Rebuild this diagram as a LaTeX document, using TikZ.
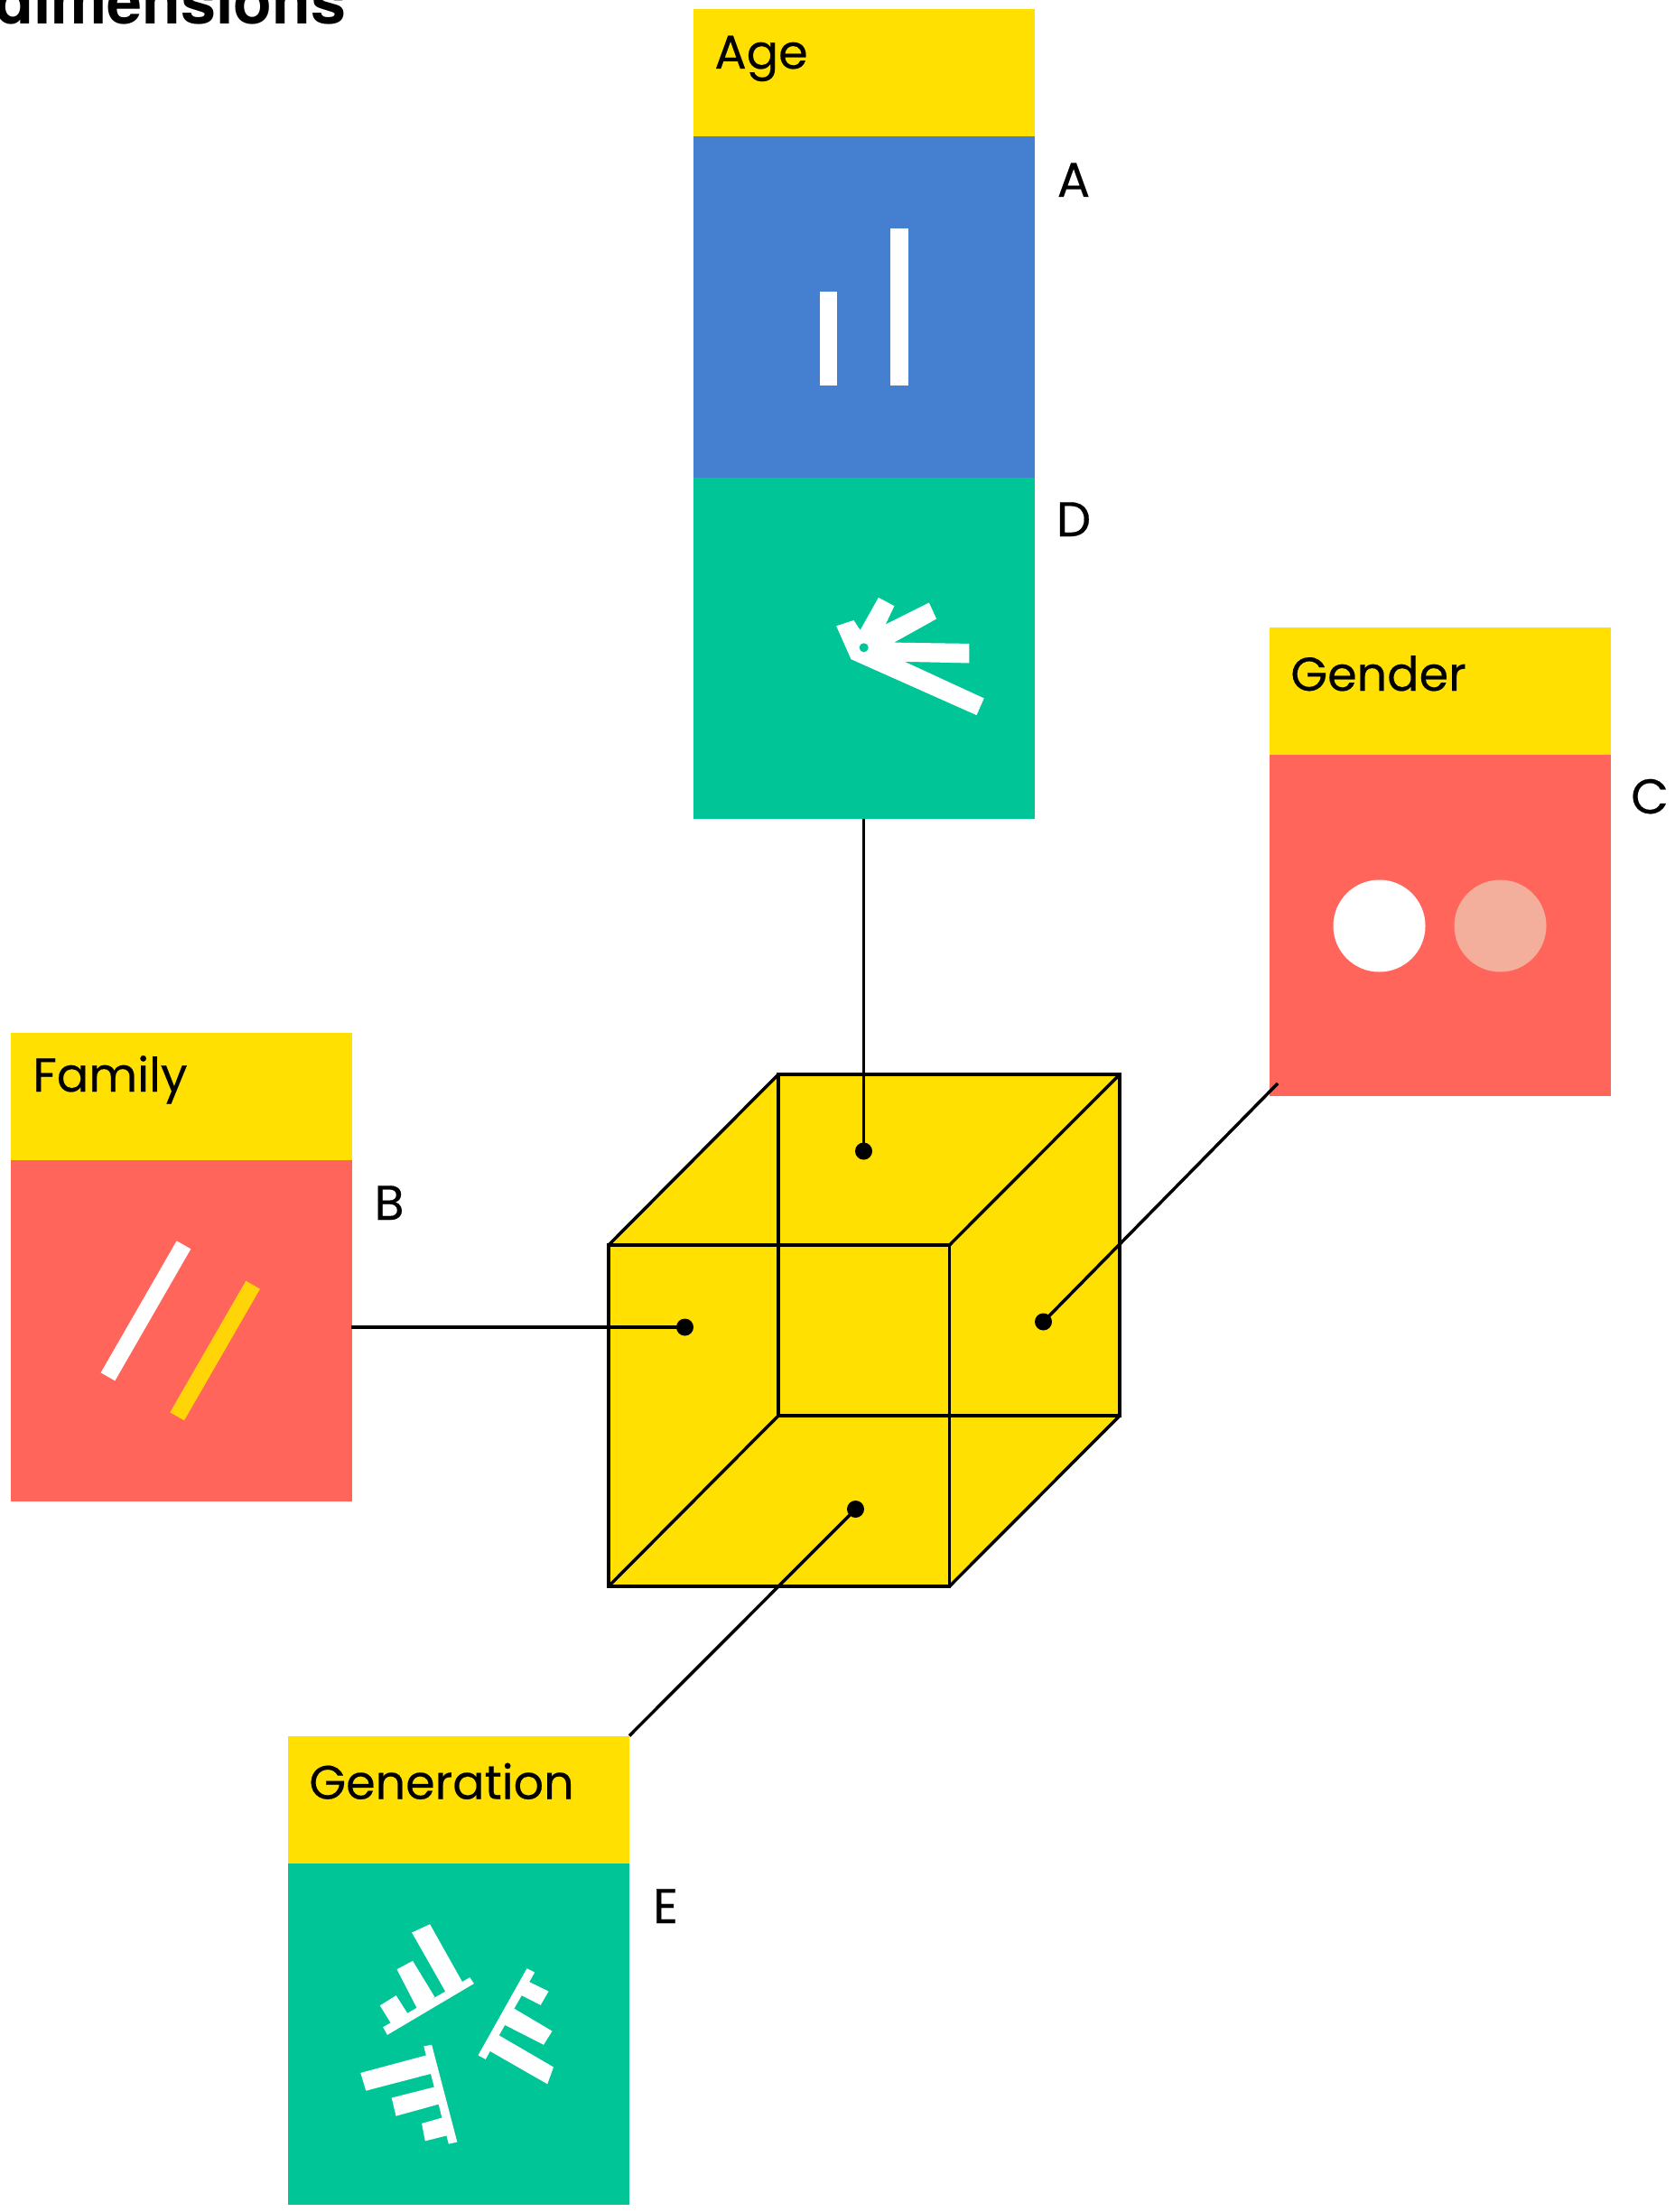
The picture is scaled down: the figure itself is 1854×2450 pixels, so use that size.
\documentclass[tikz,border=0pt]{standalone}
\usepackage{fontspec}
\setmainfont[FakeBold=0.35]{Poppins}
\newfontfamily\headfont[BoldFont={TeX Gyre Heros Bold}]{TeX Gyre Heros}
\definecolor{hdyellow}{HTML}{FFE000}
\definecolor{cubeyellow}{HTML}{FFE000}
\definecolor{bodyblue}{HTML}{4580D0}
\definecolor{bodygreen}{HTML}{00C596}
\definecolor{bodycoral}{HTML}{FF655B}
\definecolor{softcircle}{HTML}{F4AE9C}
\definecolor{baryellow}{HTML}{FFD507}
\tikzset{
  x=0.5pt,y=-0.5pt,
  panel/.style={anchor=north west,inner sep=0pt,outer sep=0pt,minimum width=189pt,draw=none},
  head/.style={panel,fill=hdyellow,minimum height=71pt},
  tall/.style={panel,minimum height=189pt},
  caption/.style={anchor=base west,inner sep=0pt,font=\fontsize{26.2}{30}\selectfont,text=black},
  letter/.style={anchor=base,inner sep=0pt,font=\fontsize{27}{30}\selectfont,text=black},
  edge/.style={draw=black,line width=1.75pt,line join=miter},
  conn/.style={draw=black,line width=1.75pt},
  dotmark/.style={circle,fill=black,inner sep=0pt,minimum size=9.5pt},
  iconshape/.style={fill=white,draw=white,line width=1.1pt,line join=miter},
}
\begin{document}
\begin{tikzpicture}
\useasboundingbox (0,0) rectangle (1854,2450);
\clip (0,0) rectangle (1854,2450);
\fill[white] (0,0) rectangle (1854,2450);

\node[anchor=base west,inner sep=0pt,font=\headfont\bfseries\fontsize{35}{40}\selectfont] (title) at (-6,27) {dimensions};

% cube
\coordinate (f1) at (674,1379);\coordinate (f2) at (1051.5,1379);\coordinate (f3) at (1051.5,1757);\coordinate (f4) at (674,1757);
\coordinate (b1) at (862,1190);\coordinate (b2) at (1240,1190);\coordinate (b3) at (1240,1568);\coordinate (b4) at (862,1568);
\fill[cubeyellow] (f1)--(b1)--(b2)--(b3)--(f3)--(f4)--cycle;
\draw[edge] (f1)--(f2)--(f3)--(f4)--cycle;
\draw[edge] (b1)--(b2)--(b3)--(b4)--cycle;
\draw[edge] (f1)--(b1) (f2)--(b2) (f3)--(b3) (f4)--(b4);

% panels
\node[head] (ageH) at (767.5,10) {};
\node[tall,fill=bodyblue] (ageA) at (767.5,151) {};
\node[tall,fill=bodygreen] (ageD) at (767.5,528.5) {};
\node[head] (genH) at (1406,695) {};
\node[tall,fill=bodycoral] (genB) at (1406,836) {};
\node[head] (famH) at (12,1143.5) {};
\node[tall,fill=bodycoral] (famB) at (12,1284.5) {};
\node[head] (gnrH) at (319,1922.5) {};
\node[tall,fill=bodygreen] (gnrB) at (319,2063.5) {};

% connectors
\node[dotmark] (dTop) at (956.5,1275) {};
\node[dotmark] (dLeft) at (758.5,1470) {};
\node[dotmark] (dRight) at (1155.5,1464) {};
\node[dotmark] (dBot) at (947.5,1671.5) {};
\coordinate (genEnd) at (1415,1200);
\coordinate (gnrEnd) at (697,1922.5);
\coordinate (famEnd) at (389,1470);
\draw[conn] (ageD.south) -- (dTop.center);
\draw[conn] (famEnd) -- (dLeft.center);
\draw[conn] (genEnd) -- (dRight.center);
\draw[conn] (gnrEnd) -- (dBot.center);

% captions
\node[caption] (tAge) at (791,76) {Age};
\node[caption] (tGen) at (1429,765) {Gender};
\node[caption] (tFam) at (36,1209) {Family};
\node[caption] (tGnr) at (342,1992.5) {Generation};
\node[letter] (lA) at (1189,218) {A};
\node[letter] (lD) at (1189,594) {D};
\node[letter] (lC) at (1827,901) {C};
\node[letter] (lB) at (431,1351) {B};
\node[letter] (lE) at (737,2130) {E};

% A icon
\fill[white] (908,323) rectangle (927,427);
\fill[white] (986,253) rectangle (1006,427);

% D icon
\begin{scope}[shift={(880,620)},x=0.5pt/3,y=-0.5pt/3]
\path[iconshape] (143,222)--(195,205)--(218,240)--(280,130)--(327,155)--(295,222)--(445,147)--(467,195)--(318,278)--(577,282)--(577,340)--(350,335)--(625,462)--(603,512)--(190,328)--cycle;
\fill[bodygreen] (230,292) circle (15);
\end{scope}

% C icon
\fill[white] (1527.5,1025.5) circle (51);
\fill[softcircle] (1661.5,1025.5) circle (51);

% B icon
\begin{scope}[shift={(80,1340)},x=0.5pt/3,y=-0.5pt/3]
\fill[white] (347,103)--(394,130)--(142,568)--(95,541)--cycle;
\fill[baryellow] (577,236)--(624,263)--(372,700)--(325,673)--cycle;
\end{scope}

% E icon
\begin{scope}[shift={(380,2080)},x=0.5pt/3,y=-0.5pt/3]
\path[iconshape] (137,497)--(420,335)--(430,350)--(148,517)--cycle;
\path[iconshape] (127,425)--(175,395)--(215,458)--(165,487)--cycle;
\path[iconshape] (183,305)--(230,280)--(300,395)--(250,435)--cycle;
\path[iconshape] (233,183)--(287,158)--(392,345)--(345,380)--cycle;
\path[iconshape] (612,305)--(632,315)--(472,598)--(453,588)--cycle;
\path[iconshape] (515,525)--(695,630)--(677,680)--(485,570)--cycle;
\path[iconshape] (555,430)--(690,510)--(665,550)--(532,482)--cycle;
\path[iconshape] (610,345)--(678,378)--(655,418)--(590,385)--cycle;
\path[iconshape] (272,562)--(292,558)--(375,875)--(353,880)--cycle;
\path[iconshape] (62,650)--(275,593)--(300,645)--(78,703)--cycle;
\path[iconshape] (165,733)--(315,695)--(330,745)--(178,787)--cycle;
\path[iconshape] (265,818)--(340,797)--(355,850)--(275,870)--cycle;
\end{scope}
\end{tikzpicture}
\end{document}
